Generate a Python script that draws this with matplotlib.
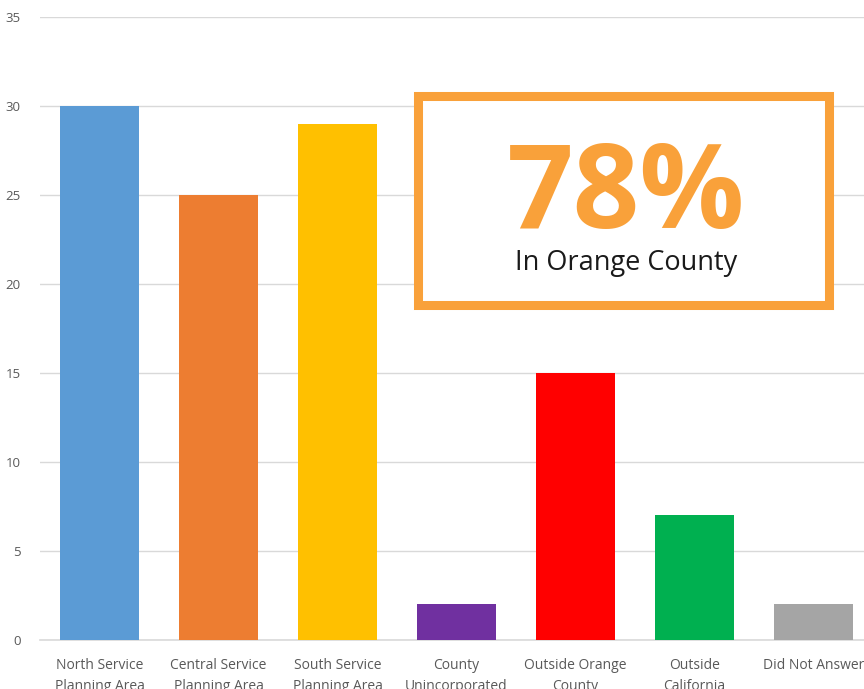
import matplotlib
matplotlib.use("Agg")
import matplotlib.pyplot as plt
from matplotlib.patches import Rectangle

categories = ["North Service\nPlanning Area", "Central Service\nPlanning Area",
              "South Service\nPlanning Area", "County\nUnincorporated",
              "Outside Orange\nCounty", "Outside\nCalifornia", "Did Not Answer"]
values = [30, 25, 29, 2, 15, 7, 2]
colors = ["#5B9BD5", "#ED7D31", "#FFC000", "#7030A0", "#FF0000", "#00B050", "#A5A5A5"]
yticks = [0, 5, 10, 15, 20, 25, 30, 35]
headline = "78%"
subline = "In Orange County"

W, H = 864, 689
fig = plt.figure(figsize=(W / 100, H / 100), dpi=100)
plt.rcParams['font.family'] = ['Open Sans', 'DejaVu Sans']

ax = fig.add_axes([40 / W, (H - 640) / H, 833 / W, 623 / H])
x = list(range(len(categories)))
ax.bar(x, values, width=0.672, color=colors, zorder=3)
ax.set_xlim(-0.5, len(categories) - 0.5)
ax.set_ylim(0, 35)
ax.set_yticks(yticks)
ax.set_yticklabels([str(t) for t in yticks])
ax.set_xticks(x)
ax.set_xticklabels(categories, linespacing=1.55)
ax.tick_params(axis='y', length=0, pad=14, labelsize=9.5, labelcolor="#595959")
ax.tick_params(axis='x', length=0, pad=13, labelsize=10, labelcolor="#595959")
for lab in ax.get_xticklabels():
    lab.set_verticalalignment('top')
ax.grid(axis='y', color="#D9D9D9", linewidth=1, zorder=0)
for s in ["top", "right", "left"]:
    ax.spines[s].set_visible(False)
ax.spines["bottom"].set_color("#D9D9D9")
ax.spines["bottom"].set_linewidth(1.2)
ax.set_axisbelow(True)

# callout box (figure pixel coordinates)
bx0, by0, bx1, by1 = 417.5, 96, 829, 305
rect = Rectangle((bx0 / W, 1 - by1 / H), (bx1 - bx0) / W, (by1 - by0) / H,
                 transform=fig.transFigure, facecolor="white",
                 edgecolor="#F9A13A", linewidth=6.5, zorder=10)
fig.patches.append(rect)
cx = 626 / W
fig.text(cx, 1 - 228 / H, headline, ha='center', va='baseline', fontsize=84,
         fontweight='bold', color="#F9A13A", zorder=11)
fig.text(cx, 1 - 270 / H, subline, ha='center', va='baseline', fontsize=19.5,
         color="#1A1A1A", zorder=11)

fig.savefig("out.png", dpi=100)
